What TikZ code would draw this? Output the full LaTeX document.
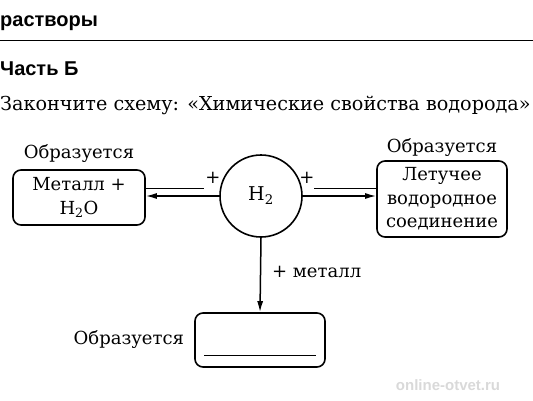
\documentclass[tikz,border=0pt]{standalone}
\usepackage{fontspec}
\setmainfont{DejaVu Serif}
\setsansfont{Liberation Sans}
\usetikzlibrary{arrows.meta, positioning}

\begin{document}
\begin{tikzpicture}[
    x=1pt, y=-1pt,
    txt/.style={font=\fontsize{18}{21}\selectfont, inner sep=0pt},
    head/.style={font=\sffamily\bfseries\fontsize{20}{23}\selectfont, inner sep=0pt, anchor=west},
    box/.style={rectangle, draw, line width=1.6pt, rounded corners=8pt, align=center, inner sep=1pt, font=\fontsize{18}{23.5}\selectfont},
    hcirc/.style={circle, draw, line width=1.6pt, minimum size=82pt, inner sep=0pt, font=\fontsize{19}{22}\selectfont},
    arrow/.style={-{Latex[length=11pt,width=6pt]}, line width=1.5pt},
    plain/.style={line width=0.9pt}
]
\useasboundingbox (0,0) rectangle (533,400);

% Header
\node (part) at (0,23) [head] {растворы};
\draw [line width=1pt] (0,40) -- (533,40);
\node (chapter) at (0,69) [head] {Часть Б};
\node (task) at (0,105) [txt, anchor=west, font=\fontsize{19.2}{22}\selectfont] {Закончите схему: «Химические свойства водорода»};

% Central node
\node (h2) at (261,196) [hcirc] {H\textsubscript{2}};

% Product boxes
\node (lbox) at (79,197.5) [box, minimum width=132pt, minimum height=55pt] {Металл +\\H\textsubscript{2}O};
\node (lform) [txt, above=7pt of lbox] {Образуется};
\node (rbox) at (442,199) [box, minimum width=130pt, minimum height=76pt] {Летучее\\водородное\\соединение};
\node (rform) [txt, above=4pt of rbox] {Образуется};
\node (bbox) at (260,340) [box, minimum width=130pt, minimum height=54pt] {};
\node (bform) [txt, left=10pt of bbox] {Образуется};
\draw [plain] ([xshift=10pt,yshift=-15pt]bbox.west) -- ([xshift=-10pt,yshift=-15pt]bbox.east);

% Connections
\draw [arrow] (h2.west) -- (h2.west -| lbox.east);
\draw [plain] ([yshift=9pt]lbox.east) -- ++(58,0);
\node (lplus) at (213,178) [txt] {+};
\draw [arrow] (h2.east) -- (rbox.west |- h2.east);
\draw [plain] (rbox.west |- {(0,188)}) -- ++(-62,0);
\node (rplus) at (307,178) [txt] {+};
\draw [arrow] (h2.south) -- (bbox.north);
\node (metal) at (272,272) [txt, anchor=west] {+ металл};

% Watermark
\node (mark) at (448,385) [font=\sffamily\bfseries\fontsize{15}{18}\selectfont, text=gray!30, inner sep=0pt] {online-otvet.ru};

\end{tikzpicture}
\end{document}
